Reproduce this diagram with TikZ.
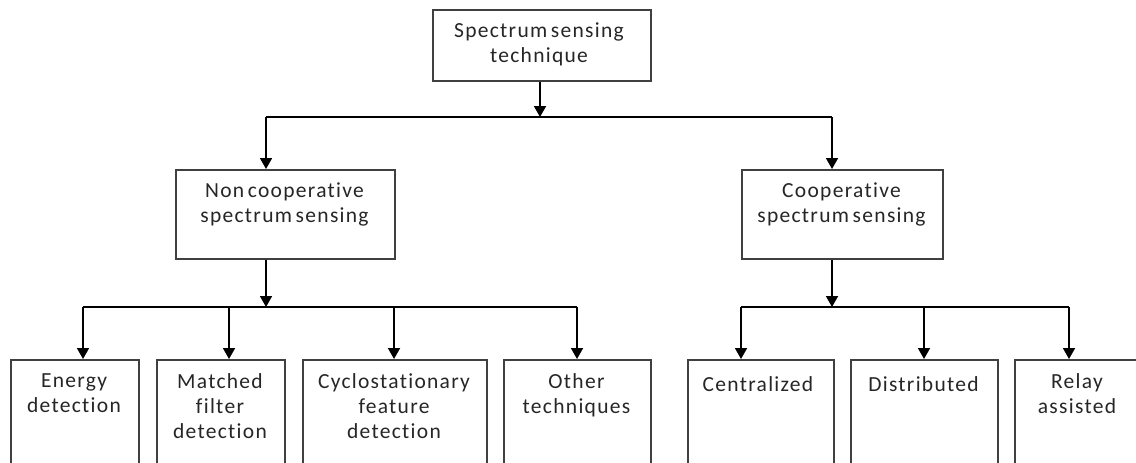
\documentclass[tikz,border=0pt]{standalone}
\usepackage{fontspec}
\setmainfont{Carlito}[LetterSpace=6,WordSpace=0.6,Ligatures={NoCommon}]
\usetikzlibrary{arrows.meta}
\begin{document}
\begin{tikzpicture}[x=1pt,y=-1pt,
  boxst/.style={draw=black!75,line width=1.6pt,rectangle,inner sep=0pt,anchor=north west},
  lbl/.style={align=center,anchor=north,inner sep=0pt,text=black!85,
    font=\fontsize{21.5}{25}\selectfont,execute at begin node=\strut},
  conn/.style={draw=black,line width=1.8pt},
  arr/.style={conn,-{Triangle[length=11pt,width=12pt]}}]
\useasboundingbox (0,0) rectangle (1136,463);
\clip (0,0) rectangle (1136,463);
% boxes
\node[boxst,minimum width=218pt,minimum height=71pt] (top) at (432,9) {};
\node[boxst,minimum width=219pt,minimum height=89pt] (nc) at (175,169) {};
\node[boxst,minimum width=201pt,minimum height=89pt] (coop) at (741,169) {};
\node[boxst,minimum width=128pt,minimum height=130pt] (en) at (10,359) {};
\node[boxst,minimum width=128pt,minimum height=130pt] (mf) at (156,359) {};
\node[boxst,minimum width=184pt,minimum height=130pt] (cy) at (302,359) {};
\node[boxst,minimum width=147pt,minimum height=130pt] (ot) at (503,359) {};
\node[boxst,minimum width=146pt,minimum height=130pt] (ce) at (687,359) {};
\node[boxst,minimum width=147pt,minimum height=130pt] (di) at (850,359) {};
\node[boxst,minimum width=131pt,minimum height=130pt] (re) at (1014,359) {};
% labels
\node[lbl] (topt) at (539,22.5) {Spectrum sensing\\technique};
\node[lbl] (nct) at (284.5,183) {Non cooperative\\spectrum sensing};
\node[lbl] (coopt) at (841.5,183) {Cooperative\\spectrum sensing};
\node[lbl] (ent) at (74,373.5) {Energy\\detection};
\node[lbl] (mft) at (220,373.5) {Matched\\filter\\detection};
\node[lbl] (cyt) at (394,373.5) {Cyclostationary\\feature\\detection};
\node[lbl] (ott) at (576.5,373.5) {Other\\techniques};
\node[lbl] (cet) at (758,373.5) {Centralized};
\node[lbl] (dit) at (923.5,373.5) {Distributed};
\node[lbl] (ret) at (1077,373.5) {Relay\\assisted};
% junction coordinates
\coordinate (j1) at (540,117);
\coordinate (j1L) at (266,117);
\coordinate (j1R) at (832,117);
\coordinate (j2) at (266,307);
\coordinate (j2a) at (83,307);
\coordinate (j2b) at (229,307);
\coordinate (j2c) at (394,307);
\coordinate (j2d) at (577,307);
\coordinate (j3) at (832,307);
\coordinate (j3a) at (741,307);
\coordinate (j3b) at (924,307);
\coordinate (j3c) at (1069,307);
% connectors
\draw[arr] (top.south -| j1) -- (j1);
\draw[conn] (j1L) -- (j1R);
\draw[arr] (j1L) -- (j1L |- nc.north);
\draw[arr] (j1R) -- (j1R |- coop.north);
\draw[arr] (nc.south -| j2) -- (j2);
\draw[conn] (j2a) -- (j2d);
\draw[arr] (j2a) -- (j2a |- en.north);
\draw[arr] (j2b) -- (j2b |- mf.north);
\draw[arr] (j2c) -- (j2c |- cy.north);
\draw[arr] (j2d) -- (j2d |- ot.north);
\draw[arr] (coop.south -| j3) -- (j3);
\draw[conn] (j3a) -- (j3c);
\draw[arr] (j3a) -- (j3a |- ce.north);
\draw[arr] (j3b) -- (j3b |- di.north);
\draw[arr] (j3c) -- (j3c |- re.north);
\end{tikzpicture}
\end{document}
